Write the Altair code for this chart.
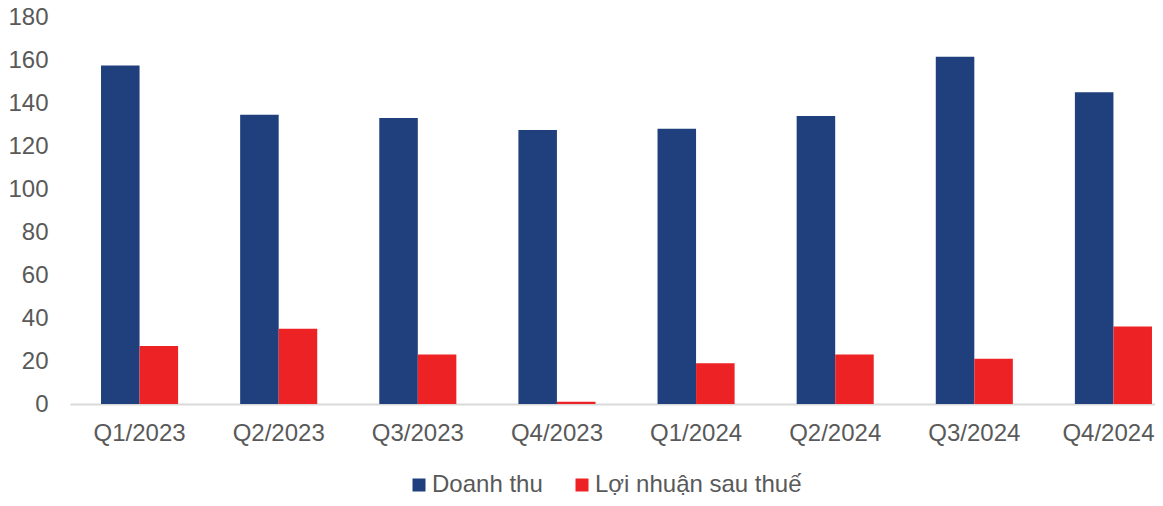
import altair as alt
import pandas as pd

quarters = ["Q1/2023", "Q2/2023", "Q3/2023", "Q4/2023",
            "Q1/2024", "Q2/2024", "Q3/2024", "Q4/2024"]
doanh_thu = [157.5, 134.5, 133, 127.5, 128, 134, 161.5, 145]
loi_nhuan = [27, 35, 23, 1, 19, 23, 21, 36]
series_names = ["Doanh thu", "Lợi nhuận sau thuế"]
series_colors = ["#1F407D", "#ED2224"]
y_ticks = [0, 20, 40, 60, 80, 100, 120, 140, 160, 180]

rows = []
for q, d, l in zip(quarters, doanh_thu, loi_nhuan):
    rows.append({"quy": q, "series": series_names[0], "value": d})
    rows.append({"quy": q, "series": series_names[1], "value": l})
df = pd.DataFrame(rows)

FONT = "Liberation Sans"
GREY = "#595959"
FS = 24

chart = alt.Chart(df).mark_bar().encode(
    x=alt.X("quy:N", sort=quarters, title=None,
            scale=alt.Scale(range=[0, 1113], paddingInner=0.446, paddingOuter=0.223),
            axis=alt.Axis(labelAngle=0, labelFontSize=FS, labelColor=GREY, labelFont=FONT,
                          labelPadding=17, ticks=False, domainColor="#D9D9D9",
                          domainWidth=2, grid=False,
                          labelOffset={"condition": {"test": "datum.value === 'Q4/2024'", "value": -5},
                                       "value": 0})),
    xOffset=alt.XOffset("series:N", sort=series_names,
                        scale=alt.Scale(paddingInner=0, paddingOuter=0)),
    y=alt.Y("value:Q", title=None,
            scale=alt.Scale(domain=[0, 180], nice=False),
            axis=alt.Axis(values=y_ticks, labelFontSize=FS, labelColor=GREY, labelFont=FONT,
                          labelPadding=22, ticks=False, domain=False, grid=False)),
    color=alt.Color("series:N", sort=series_names,
                    scale=alt.Scale(domain=series_names, range=series_colors),
                    legend=alt.Legend(title=None, orient="none", direction="horizontal",
                                      legendX=337, legendY=456,
                                      symbolType="square", symbolSize=169,
                                      symbolStrokeWidth=0,
                                      labelFontSize=FS, labelColor=GREY, labelFont=FONT,
                                      labelLimit=400,
                                      labelOffset=1, columnPadding=27)),
).properties(
    width=1085,
    height=387,
    autosize=alt.AutoSizeParams(type="none"),
    padding={"left": 62, "top": 9, "right": 0, "bottom": 94},
).configure(font=FONT).configure_view(stroke="transparent")

chart.save("out.html", embed_options={"renderer": "svg", "actions": False})
